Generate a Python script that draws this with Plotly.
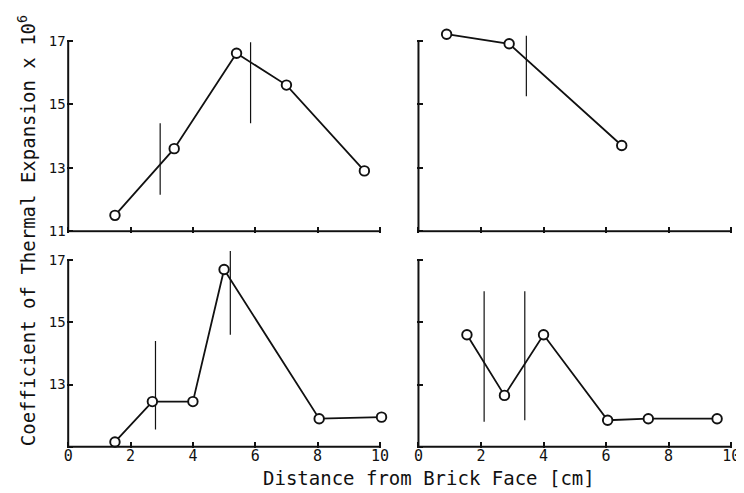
import plotly.graph_objects as go

# ---------------- data ----------------
# top-left panel
tl_x = [1.5, 3.4, 5.4, 7.0, 9.5]
tl_y = [11.5, 13.6, 16.6, 15.6, 12.9]
tl_bx = [2.95, 5.85]
tl_by0 = [12.15, 14.4]
tl_by1 = [14.4, 16.95]

# top-right panel
tr_x = [0.9, 2.9, 6.5]
tr_y = [17.2, 16.9, 13.7]
tr_bx = [3.45]
tr_by0 = [15.25]
tr_by1 = [17.15]

# bottom-left panel
bl_x = [1.5, 2.7, 4.0, 5.0, 8.05, 10.05]
bl_y = [11.15, 12.45, 12.45, 16.7, 11.9, 11.95]
bl_bx = [2.8, 5.2]
bl_by0 = [11.55, 14.6]
bl_by1 = [14.4, 17.3]

# bottom-right panel
br_x = [1.55, 2.75, 4.0, 6.05, 7.35, 9.55]
br_y = [14.6, 12.65, 14.6, 11.85, 11.9, 11.9]
br_bx = [2.1, 3.4]
br_by0 = [11.8, 11.85]
br_by1 = [16.0, 16.0]

x_ticks = [0, 2, 4, 6, 8, 10]
x_ticklabels = ["0", "2", "4", "6", "8", "10"]
y_ticks = [11, 13, 15, 17]
y_ticklabels = ["11", "13", "15", "17"]

x_title = "Distance from Brick Face [cm]"
y_title = "Coefficient of Thermal Expansion x 10<sup>6</sup>"

FONT = "DejaVu Sans Mono"
INK = "#111111"

panels = [
    ("x", "y", tl_x, tl_y, tl_bx, tl_by0, tl_by1),
    ("x2", "y2", tr_x, tr_y, tr_bx, tr_by0, tr_by1),
    ("x3", "y3", bl_x, bl_y, bl_bx, bl_by0, bl_by1),
    ("x4", "y4", br_x, br_y, br_bx, br_by0, br_by1),
]

fig = go.Figure()
shapes = []
for xa, ya, xs, ys, bx, by0, by1 in panels:
    # boundary lines
    vx, vy = [], []
    for b, a0, a1 in zip(bx, by0, by1):
        vx += [b, b, None]
        vy += [a0, a1, None]
    fig.add_trace(go.Scatter(x=vx, y=vy, xaxis=xa, yaxis=ya, mode="lines",
                             line=dict(color=INK, width=1.2), showlegend=False,
                             hoverinfo="skip"))
    fig.add_trace(go.Scatter(x=xs, y=ys, xaxis=xa, yaxis=ya, mode="lines+markers",
                             line=dict(color=INK, width=1.8),
                             marker=dict(symbol="circle", size=9.5, color="white",
                                         line=dict(color=INK, width=1.9)),
                             cliponaxis=False, showlegend=False))
    # axis lines (x from 0..10 at y=11, y from 11..17 at x=0)
    shapes.append(dict(type="line", xref=xa, yref=ya, x0=x_ticks[0], x1=x_ticks[-1],
                       y0=y_ticks[0], y1=y_ticks[0], line=dict(color=INK, width=2)))
    shapes.append(dict(type="line", xref=xa, yref=ya, x0=x_ticks[0], x1=x_ticks[0],
                       y0=y_ticks[0], y1=y_ticks[-1], line=dict(color=INK, width=2)))

xr = [-0.05, 10.05]
yr = [10.95, 17.5]
dom_xl = [0.0758, 0.5048]
dom_xr = [0.5530, 0.9833]
dom_yt = [0.5383, 0.9657]
dom_yb = [0.0961, 0.5140]

def xaxis(dom, anchor, labels):
    return dict(domain=dom, anchor=anchor, range=xr, showgrid=False, zeroline=False,
                showline=False, ticks="inside", ticklen=6, tickwidth=1.6, tickcolor=INK,
                tickvals=x_ticks, ticktext=x_ticklabels if labels else [""] * len(x_ticks),
                showticklabels=labels, ticklabelstandoff=-3,
                tickfont=dict(family=FONT, size=15, color=INK))

def yaxis(dom, anchor, labels):
    txt = y_ticklabels if labels == "all" else (
        [""] + y_ticklabels[1:] if labels == "bottom" else [""] * len(y_ticks))
    return dict(domain=dom, anchor=anchor, range=yr, showgrid=False, zeroline=False,
                showline=False, ticks="inside", ticklen=6, tickwidth=1.6, tickcolor=INK,
                tickvals=y_ticks, ticktext=txt, showticklabels=labels != "none",
                tickfont=dict(family=FONT, size=14, color=INK))

fig.update_layout(
    width=744, height=493,
    margin=dict(l=0, r=0, t=0, b=0),
    paper_bgcolor="white", plot_bgcolor="white",
    xaxis=xaxis(dom_xl, "y", False),
    yaxis=yaxis(dom_yt, "x", "all"),
    xaxis2=xaxis(dom_xr, "y2", False),
    yaxis2=yaxis(dom_yt, "x2", "none"),
    xaxis3=xaxis(dom_xl, "y3", True),
    yaxis3=yaxis(dom_yb, "x3", "bottom"),
    xaxis4=xaxis(dom_xr, "y4", True),
    yaxis4=yaxis(dom_yb, "x4", "none"),
    shapes=shapes,
    annotations=[
        dict(text=x_title, xref="paper", yref="paper", x=0.570, y=0.034,
             xanchor="center", yanchor="middle", showarrow=False,
             font=dict(family=FONT, size=19, color=INK)),
        dict(text=y_title, xref="paper", yref="paper", x=0.022, y=0.542,
             xanchor="center", yanchor="middle", showarrow=False, textangle=-90,
             font=dict(family=FONT, size=19, color=INK)),
    ],
)

fig.write_html("out.html")
